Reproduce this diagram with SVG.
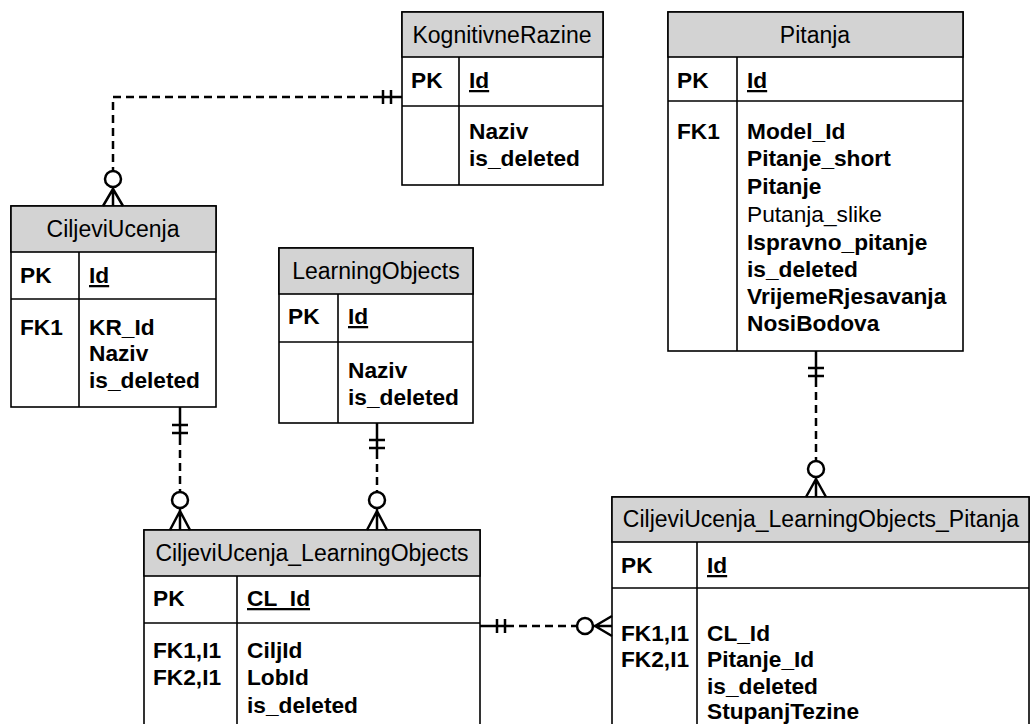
<svg xmlns="http://www.w3.org/2000/svg" width="1030" height="724" viewBox="0 0 1030 724">
<style>
.box{fill:#fff;stroke:#000;stroke-width:1.6}
.hdr{fill:#d3d3d3;stroke:#000;stroke-width:1.6}
.ln{stroke:#000;stroke-width:1.6;fill:none}
.t{font-family:"Liberation Sans",Arial,sans-serif;font-size:22.7px;fill:#000}
.h{text-anchor:middle;font-size:23px}
.b{font-weight:bold}
.u{text-decoration:underline}
.dash{stroke:#000;stroke-width:2.5;fill:none;stroke-dasharray:8 5}
.sol{stroke:#000;stroke-width:2.5;fill:none}
.circ{stroke:#000;stroke-width:2.5;fill:#fff}
</style>
<rect width="1030" height="724" fill="#fff"/>

<g id="KognitivneRazine">
<rect class="box" x="402" y="12" width="201" height="173"/>
<rect class="hdr" x="402" y="12" width="201" height="45"/>
<line class="ln" x1="402" y1="106" x2="603" y2="106"/>
<line class="ln" x1="459" y1="57" x2="459" y2="185"/>
<text class="t h" x="502" y="43">KognitivneRazine</text>
<text class="t b" x="411" y="88">PK</text>
<text class="t b u" x="469" y="88">Id</text>
<text class="t b" x="469" y="139">Naziv</text>
<text class="t b" x="469" y="166">is_deleted</text>
</g>

<g id="Pitanja">
<rect class="box" x="668" y="12" width="295" height="339"/>
<rect class="hdr" x="668" y="12" width="295" height="45"/>
<line class="ln" x1="668" y1="101" x2="963" y2="101"/>
<line class="ln" x1="737" y1="57" x2="737" y2="351"/>
<text class="t h" x="815" y="43">Pitanja</text>
<text class="t b" x="677" y="88">PK</text>
<text class="t b u" x="747" y="88">Id</text>
<text class="t b" x="677" y="139">FK1</text>
<text class="t b" x="747" y="139">Model_Id</text>
<text class="t b" x="747" y="166">Pitanje_short</text>
<text class="t b" x="747" y="194">Pitanje</text>
<text class="t" x="747" y="222">Putanja_slike</text>
<text class="t b" x="747" y="250">Ispravno_pitanje</text>
<text class="t b" x="747" y="277">is_deleted</text>
<text class="t b" x="747" y="304">VrijemeRjesavanja</text>
<text class="t b" x="747" y="331">NosiBodova</text>
</g>

<g id="CiljeviUcenja">
<rect class="box" x="11" y="206" width="205" height="201"/>
<rect class="hdr" x="11" y="206" width="205" height="46"/>
<line class="ln" x1="11" y1="299" x2="216" y2="299"/>
<line class="ln" x1="79" y1="252" x2="79" y2="407"/>
<text class="t h" x="113" y="237">CiljeviUcenja</text>
<text class="t b" x="20" y="283">PK</text>
<text class="t b u" x="89" y="283">Id</text>
<text class="t b" x="20" y="335">FK1</text>
<text class="t b" x="89" y="335">KR_Id</text>
<text class="t b" x="89" y="361">Naziv</text>
<text class="t b" x="89" y="388">is_deleted</text>
</g>

<g id="LearningObjects">
<rect class="box" x="279" y="248" width="194" height="175"/>
<rect class="hdr" x="279" y="248" width="194" height="46"/>
<line class="ln" x1="279" y1="342" x2="473" y2="342"/>
<line class="ln" x1="338" y1="294" x2="338" y2="423"/>
<text class="t h" x="376" y="279">LearningObjects</text>
<text class="t b" x="288" y="324">PK</text>
<text class="t b u" x="348" y="324">Id</text>
<text class="t b" x="348" y="378">Naziv</text>
<text class="t b" x="348" y="405">is_deleted</text>
</g>

<g id="CiljeviUcenja_LearningObjects">
<rect class="box" x="144" y="530" width="336" height="210"/>
<rect class="hdr" x="144" y="530" width="336" height="46"/>
<line class="ln" x1="144" y1="623" x2="480" y2="623"/>
<line class="ln" x1="237" y1="576" x2="237" y2="740"/>
<text class="t h" x="312" y="561">CiljeviUcenja_LearningObjects</text>
<text class="t b" x="153" y="606">PK</text>
<text class="t b u" x="247" y="606">CL_Id</text>
<text class="t b" x="153" y="658">FK1,I1</text>
<text class="t b" x="247" y="658">CiljId</text>
<text class="t b" x="153" y="685">FK2,I1</text>
<text class="t b" x="247" y="685">LobId</text>
<text class="t b" x="247" y="713">is_deleted</text>
</g>

<g id="CiljeviUcenja_LearningObjects_Pitanja">
<rect class="box" x="612" y="497" width="417" height="240"/>
<rect class="hdr" x="612" y="497" width="417" height="45"/>
<line class="ln" x1="612" y1="588" x2="1029" y2="588"/>
<line class="ln" x1="697" y1="542" x2="697" y2="740"/>
<text class="t h" x="821" y="527">CiljeviUcenja_LearningObjects_Pitanja</text>
<text class="t b" x="621" y="573">PK</text>
<text class="t b u" x="707" y="573">Id</text>
<text class="t b" x="621" y="641">FK1,I1</text>
<text class="t b" x="707" y="641">CL_Id</text>
<text class="t b" x="621" y="667">FK2,I1</text>
<text class="t b" x="707" y="667">Pitanje_Id</text>
<text class="t b" x="707" y="694">is_deleted</text>
<text class="t b" x="707" y="719">StupanjTezine</text>
</g>

<g id="connectors">
<!-- KognitivneRazine -> CiljeviUcenja -->
<path class="sol" d="M402,97 H381 M383,90 V104 M391,90 V104"/>
<path class="dash" d="M381,97 H113 V171"/>
<circle class="circ" cx="113" cy="179" r="8"/>
<path class="sol" d="M113,187 V206 M113,189 L103,206 M113,189 L123,206"/>

<!-- CiljeviUcenja -> CiljeviUcenja_LearningObjects -->
<path class="sol" d="M180,407 V437 M172,425 H188 M172,433 H188"/>
<path class="dash" d="M180,437 V492"/>
<circle class="circ" cx="180" cy="500" r="8"/>
<path class="sol" d="M180,508 V530 M180,511 L170,530 M180,511 L190,530"/>

<!-- LearningObjects -> CiljeviUcenja_LearningObjects -->
<path class="sol" d="M377,423 V451 M369,440 H385 M369,448 H385"/>
<path class="dash" d="M377,451 V492"/>
<circle class="circ" cx="377" cy="500" r="8"/>
<path class="sol" d="M377,508 V530 M377,511 L367,530 M377,511 L387,530"/>

<!-- Pitanja -> CiljeviUcenja_LearningObjects_Pitanja -->
<path class="sol" d="M816,351 V379 M808,368 H824 M808,376 H824"/>
<path class="dash" d="M816,379 V461"/>
<circle class="circ" cx="816" cy="469" r="8"/>
<path class="sol" d="M816,477 V497 M816,479 L806,497 M816,479 L826,497"/>

<!-- CiljeviUcenja_LearningObjects -> CiljeviUcenja_LearningObjects_Pitanja -->
<path class="sol" d="M480,626 H506 M497,619 V633 M505,619 V633"/>
<path class="dash" d="M506,626 H577"/>
<circle class="circ" cx="585" cy="626" r="8"/>
<path class="sol" d="M593,626 H612 M595,626 L612,616 M595,626 L612,636"/>
</g>
</svg>
